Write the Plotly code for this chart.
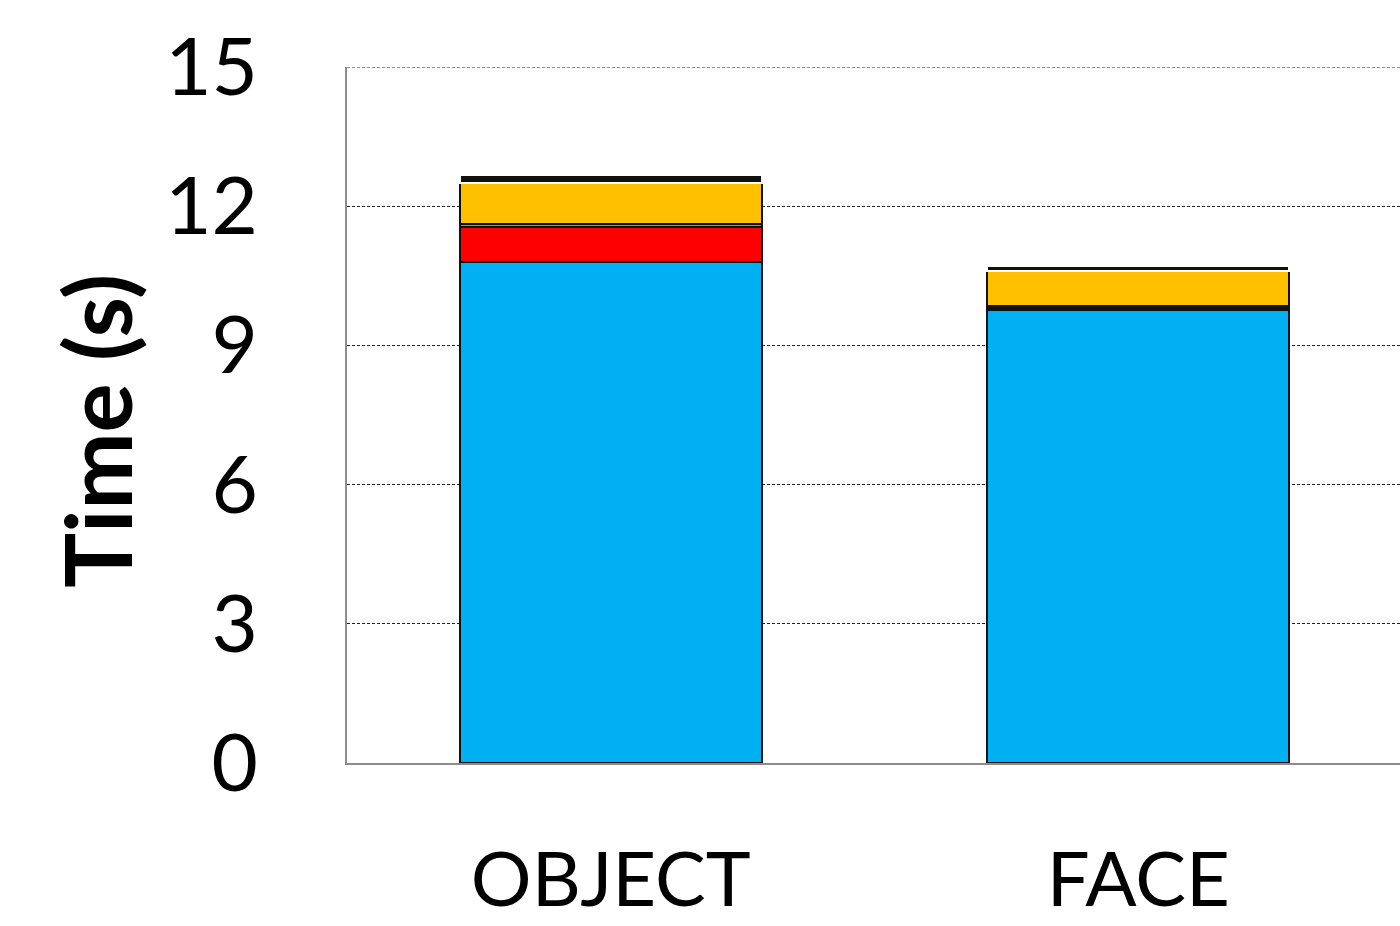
import plotly.graph_objects as go

# Stacked execution-time breakdown per workload (seconds)
categories = ["OBJECT", "FACE"]
stage_compute = [10.80, 9.76]
stage_red = [0.75, 0.05]
stage_green = [0.07, 0.04]
stage_yellow = [0.88, 0.75]
stage_black = [0.17, 0.11]

y_ticks = [0, 3, 6, 9, 12, 15]

series = [
    (stage_compute, "#00B0F0", "#111111"),
    (stage_red, "#FF0000", "#111111"),
    (stage_green, "#70AD47", "#111111"),
    (stage_yellow, "#FFC000", "#111111"),
    (stage_black, "#111111", "#FFFFFF"),
]

fig = go.Figure()
for vals, fill, edge in series:
    fig.add_trace(go.Bar(
        x=[0, 1], y=vals,
        marker=dict(color=fill, line=dict(color=edge, width=2)),
        width=0.572,
        showlegend=False,
    ))

font_family = "Lato, Open Sans, sans-serif"

# dashed gridline along the top of the value range
fig.add_shape(type="line", xref="paper", yref="y", x0=0, x1=1,
              y0=y_ticks[-1], y1=y_ticks[-1],
              line=dict(color="#222222", width=1, dash="3px,2px"), layer="below")

# y-axis title
fig.add_annotation(text="<b>Time (s)</b>", xref="paper", yref="paper",
                   x=-0.238, y=0.478, xanchor="center", yanchor="middle",
                   textangle=-90, showarrow=False,
                   font=dict(size=92, family=font_family, color="black"))

fig.update_layout(
    barmode="stack",
    width=1400, height=926,
    margin=dict(l=347, r=0, t=67, b=163),
    paper_bgcolor="white",
    plot_bgcolor="white",
    font=dict(family=font_family, color="black"),
    xaxis=dict(
        tickmode="array", tickvals=[0, 1], ticktext=categories,
        range=[-0.5, 1.496],
        showgrid=False, zeroline=False, automargin=False,
        showline=True, linecolor="#8c8c8c", linewidth=2,
        ticks="", tickfont=dict(size=76, family=font_family),
        ticklabelstandoff=50,
    ),
    yaxis=dict(
        range=[0, 15], tickmode="array", tickvals=y_ticks,
        showgrid=True, gridcolor="#222222", gridwidth=1, griddash="3px,2px",
        zeroline=False, automargin=False,
        showline=True, linecolor="#8c8c8c", linewidth=2,
        ticks="", tickfont=dict(size=80, family=font_family),
        ticklabelstandoff=71,
    ),
)

fig.write_html("out.html")
